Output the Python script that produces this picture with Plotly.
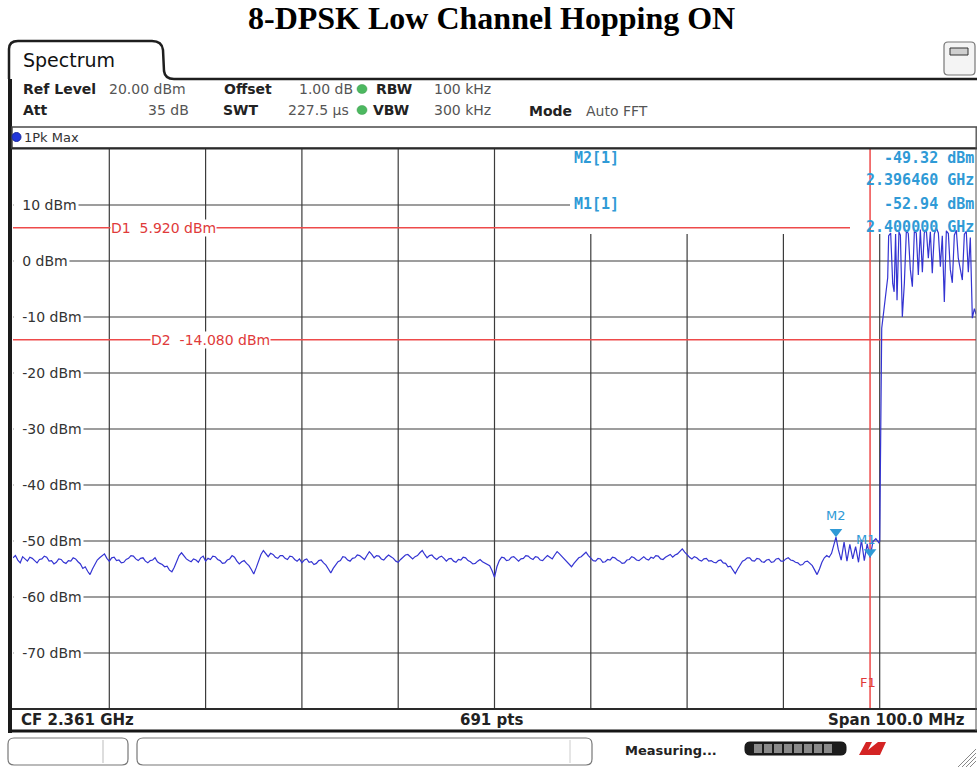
import numpy as np
import plotly.graph_objects as go

W, H = 977, 767

# ---- instrument settings ----
center_ghz = 2.361
span_mhz = 100.0
ref_level = 20.0
n_points = 691
level_ticks = [10, 0, -10, -20, -30, -40, -50, -60, -70]

# ---- display lines ----
d1_level = 5.920
d2_level = -14.080
f1_freq = 2.400

# ---- markers ----
m1_freq, m1_level = 2.400000, -52.94
m2_freq, m2_level = 2.396460, -49.32

# ---- trace 1 (1Pk Max): noise floor, 0.25 MHz steps from 2.311 GHz ----
floor_start = 2.311
floor_step = 0.00025
floor_level = [
    -53.0, -52.6, -53.4, -53.9, -52.8, -53.2, -53.6, -52.9, -53.1, -53.5,
    -53.9, -53.3, -53.2, -52.7, -52.9, -53.6, -53.5, -54.1, -53.8, -53.2,
    -53.3, -53.8, -54.0, -53.5, -53.6, -53.0, -53.2, -53.7, -54.1, -54.9,
    -54.6, -55.4, -56.0, -55.0, -54.2, -53.4, -53.0, -52.6, -52.3, -53.1,
    -53.6, -53.0, -52.9, -53.5, -53.4, -53.9, -53.8, -53.3, -53.1, -52.6,
    -52.7, -53.2, -53.5, -53.1, -53.0, -53.6, -53.9, -53.5, -53.4, -53.0,
    -53.7, -54.0, -54.2, -54.6, -54.5, -55.2, -55.5, -54.7, -53.8, -52.6,
    -52.1, -52.7, -53.2, -53.5, -53.7, -53.2, -53.4, -53.8, -53.0, -52.7,
    -53.6, -53.1, -53.3, -52.7, -52.8, -53.3, -53.5, -54.0, -53.9, -53.4,
    -53.2, -52.6, -52.9, -53.6, -54.1, -53.7, -53.5, -54.0, -54.4, -55.1,
    -55.9, -54.8, -53.6, -52.4, -51.7, -52.3, -52.8, -52.2, -52.4, -52.9,
    -53.1, -52.6, -52.6, -53.1, -53.3, -52.7, -52.8, -53.3, -53.6, -53.2,
    -53.9, -53.4, -53.2, -53.8, -53.7, -54.2, -54.0, -53.5, -53.4, -53.9,
    -54.3, -55.0, -55.7, -54.9, -54.2, -53.7, -53.5, -52.8, -52.9, -53.4,
    -53.6, -53.1, -53.0, -52.5, -52.6, -53.0, -53.3, -52.6, -51.9, -52.4,
    -53.0, -52.6, -52.7, -53.2, -53.4, -52.9, -52.5, -52.8, -53.1, -53.6,
    -53.8, -53.3, -52.9, -52.5, -52.4, -52.9, -53.2, -52.8, -52.6, -52.1,
    -51.7, -52.4, -53.0, -52.6, -52.5, -53.0, -53.3, -52.9, -52.7, -53.1,
    -53.6, -53.2, -53.1, -53.6, -53.8, -53.3, -53.4, -52.9, -53.0, -53.5,
    -53.7, -54.1, -54.0, -53.6, -53.3, -53.7, -53.9, -54.2, -54.4, -55.3,
    -56.5, -54.6, -53.5, -52.9, -53.0, -53.5, -53.4, -52.9, -52.8, -53.2,
    -53.6, -53.2, -53.1, -52.6, -52.7, -53.1, -53.3, -52.8, -52.9, -53.4,
    -53.5, -53.0, -52.6, -52.9, -53.2, -52.5, -51.9, -52.3, -52.8, -53.2,
    -53.6, -54.1, -54.6, -54.0, -53.4, -53.0, -52.8, -52.4, -52.0, -52.6,
    -53.1, -53.5, -53.6, -53.1, -53.2, -53.8, -53.7, -53.3, -53.4, -52.9,
    -53.0, -53.4, -53.6, -54.0, -53.9, -53.4, -53.3, -52.8, -53.0, -53.4,
    -53.5, -53.1, -52.8, -53.2, -53.4, -52.9, -53.1, -52.6, -52.7, -53.2,
    -53.3, -52.9, -52.6, -52.4, -52.9, -52.5, -52.3, -51.9, -51.4, -52.0,
    -52.5, -52.9, -53.2, -52.8, -53.0, -53.4, -53.6, -53.2, -53.1, -53.6,
    -53.5, -53.8, -53.9, -53.5, -53.4, -53.9, -54.0, -54.6, -54.5, -55.2,
    -55.8, -55.0, -54.2, -53.6, -53.4, -53.0, -53.0, -53.5, -53.6, -53.1,
    -53.2, -53.7, -53.8, -53.4, -53.3, -53.8, -53.7, -53.2, -53.1, -53.6,
    -53.6, -53.2, -53.0, -53.4, -53.5, -53.8, -53.9, -54.3, -54.2, -53.7,
    -53.6, -54.0, -54.4, -55.2, -56.0, -55.0, -53.8, -53.0, -52.6, -52.9,
    -52.2,
]

# ---- trace 1: band edge and hopping channels ----
edge_freq = [
    2.39646, 2.39670, 2.39700, 2.39730, 2.39760, 2.39790, 2.39820, 2.39850,
    2.39880, 2.39910, 2.39940, 2.39970, 2.40000, 2.40030, 2.40060, 2.40090,
    2.40100, 2.40106, 2.40111, 2.40116, 2.40121, 2.40142, 2.40162, 2.40183,
    2.40193, 2.40214, 2.40235, 2.40250, 2.40265, 2.40280, 2.40300, 2.40315,
    2.40335, 2.40356, 2.40377, 2.40397, 2.40418, 2.40439, 2.40460, 2.40480,
    2.40501, 2.40522, 2.40543, 2.40563, 2.40584, 2.40605, 2.40626, 2.40646,
    2.40667, 2.40688, 2.40709, 2.40730, 2.40750, 2.40771, 2.40792, 2.40813,
    2.40833, 2.40854, 2.40875, 2.40896, 2.40916, 2.40937, 2.40958, 2.40979,
    2.40999, 2.41020, 2.41041, 2.41062, 2.41083, 2.41100,
]
edge_level = [
    -49.32, -51.5, -53.4, -50.2, -53.6, -50.6, -53.2, -51.0,
    -53.8, -49.8, -53.5, -50.5, -52.94, -50.1, -49.6, -50.3,
    -50.0, -40.0, -27.0, -26.0, -12.0, -9.0, -5.5, -3.0,
    4.5, 5.0, -4.0, -5.5, 4.8, -7.0, 5.2, 4.6,
    -10.0, -4.0, 5.5, 4.9, -1.5, -4.6, 5.3, 5.0,
    -2.5, 5.6, -2.0, 5.0, 5.6, 0.5, 5.2, -2.2,
    4.8, 5.9, 5.0, -1.0, 4.5, -7.3, 5.4, 4.9,
    -1.5, -3.9, 4.6, 5.5, 0.5, -1.8, -3.4, 4.8,
    5.3, -2.0, 4.2, -10.2, -8.5, -9.5,
]

floor_freq = list(np.round(floor_start + floor_step * np.arange(len(floor_level)), 6))
trace_freq = floor_freq + edge_freq
trace_level = floor_level + edge_level

f_lo = center_ghz - span_mhz / 2000.0
f_hi = center_ghz + span_mhz / 2000.0
l_lo = ref_level - 100.0
l_hi = ref_level

# plot area in pixels
PX0, PX1, PY0, PY1 = 13, 976, 149, 709


def px(x):
    return x / W


def py(y):
    return 1 - y / H


def fx(xpix):
    """pixel column -> frequency on the x axis"""
    return f_lo + (xpix - PX0) / (PX1 - PX0) * (f_hi - f_lo)


def ly(ypix):
    """pixel row -> level on the y axis"""
    return l_hi - (ypix - PY0) / (PY1 - PY0) * (l_hi - l_lo)


def rrect(x0, y0, x1, y1, r):
    return (f"M {px(x0 + r)},{py(y0)} L {px(x1 - r)},{py(y0)} "
            f"Q {px(x1)},{py(y0)} {px(x1)},{py(y0 + r)} L {px(x1)},{py(y1 - r)} "
            f"Q {px(x1)},{py(y1)} {px(x1 - r)},{py(y1)} L {px(x0 + r)},{py(y1)} "
            f"Q {px(x0)},{py(y1)} {px(x0)},{py(y1 - r)} L {px(x0)},{py(y0 + r)} "
            f"Q {px(x0)},{py(y0)} {px(x0 + r)},{py(y0)} Z")


GRID = "#3c3c3c"
RED = "#ee4a4a"
CYAN = "#2f9ad6"
TRACE = "#3434d2"
UI = "DejaVu Sans"
MONO = "DejaVu Sans Mono"

shapes = []
annotations = []


def pline(x0, y0, x1, y1, color, width):
    shapes.append(dict(type="line", xref="paper", yref="paper",
                       x0=px(x0), y0=py(y0), x1=px(x1), y1=py(y1),
                       line=dict(color=color, width=width), layer="above"))


def text(x, y, s, size=14, color="#222", anchor="left", bold=False,
         family=UI, bg=None, yref="paper", pad=0):
    annotations.append(dict(
        x=px(x), xref="paper",
        y=py(y) if yref == "paper" else y, yref=yref,
        text=f"<b>{s}</b>" if bold else s, showarrow=False,
        xanchor=anchor, yanchor="middle",
        font=dict(family=family, size=size, color=color),
        bgcolor=bg, borderpad=pad))


# ---- grid (drawn under the trace) ----
n_div = 10
for i in range(1, n_div):
    f = f_lo + i * (f_hi - f_lo) / n_div
    top = l_hi
    if fx(570) < f:
        top = ly(234)
    shapes.append(dict(type="line", xref="x", yref="y", x0=f, x1=f, y0=l_lo, y1=top,
                       line=dict(color=GRID, width=1.2), layer="below"))
for v in level_ticks:
    right = f_hi if v < ly(234) else fx(570)
    shapes.append(dict(type="line", xref="x", yref="y", x0=f_lo, x1=right, y0=v, y1=v,
                       line=dict(color=GRID, width=1.2), layer="below"))

# display lines and frequency line
shapes.append(dict(type="line", xref="x", yref="y", x0=f_lo, x1=fx(850), y0=d1_level,
                   y1=d1_level, line=dict(color=RED, width=1.5), layer="below"))
shapes.append(dict(type="line", xref="x", yref="y", x0=f_lo, x1=f_hi, y0=d2_level,
                   y1=d2_level, line=dict(color=RED, width=1.5), layer="below"))
shapes.append(dict(type="line", xref="x", yref="y", x0=f1_freq, x1=f1_freq, y0=l_lo,
                   y1=l_hi, line=dict(color=RED, width=1.5), layer="below"))

# ---- screen frame ----
tab = (f"M {px(9)},{py(79)} L {px(9)},{py(49)} Q {px(9)},{py(41)} {px(18)},{py(41)} "
       f"L {px(152)},{py(41)} Q {px(162)},{py(41)} {px(163)},{py(50)} "
       f"L {px(164)},{py(71)} Q {px(165)},{py(79)} {px(174)},{py(79)} L {px(977)},{py(79)}")
shapes.append(dict(type="path", xref="paper", yref="paper", path=tab,
                   line=dict(color="#1e1e1e", width=2.5), layer="above"))
pline(10, 79, 10, 733, "#1a1a1a", 4)
shapes.append(dict(type="rect", xref="paper", yref="paper", x0=px(12), x1=px(977),
                   y0=py(127), y1=py(148), line=dict(color="#4a4a4a", width=1.5),
                   fillcolor="rgba(0,0,0,0)", layer="above"))
pline(12, 148.5, 977, 148.5, "#2a2a2a", 2)
pline(12, 709, 977, 709, "#2a2a2a", 2)
pline(10, 731, 977, 731, "#151515", 3)
pline(976, 127, 976, 731, "#555", 1)
shapes.append(dict(type="circle", xref="paper", yref="paper", x0=px(12), x1=px(21),
                   y0=py(132.5), y1=py(141.5), fillcolor="#2236d8",
                   line=dict(color="#1a2aa0", width=1), layer="above"))
for gy in (89, 110):
    shapes.append(dict(type="circle", xref="paper", yref="paper", x0=px(357), x1=px(367),
                       y0=py(gy - 4.5), y1=py(gy + 4.5), fillcolor="#4cb860",
                       line=dict(color="#3a9a4a", width=0.5), layer="above"))

# top-right icon
shapes.append(dict(type="path", xref="paper", yref="paper", path=rrect(944, 42, 975, 75, 4),
                   line=dict(color="#777", width=1.2), fillcolor="#f4f4f4", layer="above"))
shapes.append(dict(type="rect", xref="paper", yref="paper", x0=px(950), x1=px(968),
                   y0=py(48), y1=py(55), line=dict(color="#333", width=1),
                   fillcolor="#cfcfcf", layer="above"))

# status bar
shapes.append(dict(type="path", xref="paper", yref="paper", path=rrect(8, 738, 128, 765, 6),
                   line=dict(color="#777", width=1.2), fillcolor="white", layer="above"))
pline(103, 740, 103, 763, "#bbb", 1)
shapes.append(dict(type="path", xref="paper", yref="paper", path=rrect(137, 738, 592, 765, 6),
                   line=dict(color="#777", width=1.2), fillcolor="white", layer="above"))
pline(570, 740, 570, 763, "#ccc", 1)
shapes.append(dict(type="path", xref="paper", yref="paper", path=rrect(745, 742, 846, 755, 5),
                   line=dict(color="#111", width=1), fillcolor="#1c1c1c", layer="above"))
for k in range(8):
    x0 = 754 + k * 10
    shapes.append(dict(type="rect", xref="paper", yref="paper", x0=px(x0), x1=px(x0 + 8),
                       y0=py(744), y1=py(753), line=dict(width=0), fillcolor="#8a8a8a",
                       layer="above"))
shapes.append(dict(type="path", xref="paper", yref="paper",
                   path=(f"M {px(859)},{py(755)} L {px(866)},{py(742)} L {px(872)},{py(742)} "
                         f"L {px(868)},{py(750)} L {px(878)},{py(742)} L {px(886)},{py(742)} "
                         f"L {px(880)},{py(755)} Z"),
                   line=dict(width=0), fillcolor="#d42424", layer="above"))
for k in range(4):
    pline(958 + k * 4, 767, 976, 749 + k * 4, "#888", 1)

# ---- text ----
annotations.append(dict(x=px(492), y=py(18), xref="paper", yref="paper",
                        text="<b>8-DPSK Low Channel Hopping ON</b>", showarrow=False,
                        xanchor="center", yanchor="middle",
                        font=dict(family="Liberation Serif", size=32, color="#000")))
text(22, 60, "Spectrum", size=19, color="#111")

text(22, 89, "Ref Level", 14, "#222", bold=True)
text(108, 89, f"{ref_level:.2f} dBm", 14, "#555")
text(223, 89, "Offset", 14, "#222", bold=True)
text(298, 89, "1.00 dB", 14, "#555")
text(375, 89, "RBW", 14, "#222", bold=True)
text(433, 89, "100 kHz", 14, "#555")
text(22, 110, "Att", 14, "#222", bold=True)
text(190, 110, "35 dB", 14, "#555", anchor="right")
text(222, 110, "SWT", 14, "#222", bold=True)
text(287, 110, "227.5 µs", 14, "#555")
text(372, 110, "VBW", 14, "#222", bold=True)
text(433, 110, "300 kHz", 14, "#555")
text(528, 111, "Mode", 14, "#222", bold=True)
text(585, 111, "Auto FFT", 14, "#555")
text(23, 137, "1Pk Max", 13, "#333")

# level labels sit on their grid lines, masking the line under the text
for v in level_ticks:
    text(13, v, f"\u00a0\u2009{v} dBm", 14, "#333", bg="white", yref="y", pad=1)

text(110, d1_level, f"D1  {d1_level:.3f} dBm", 14, "#e03a3a", bg="white", yref="y")
text(150, d2_level, f"D2  {d2_level:.3f} dBm", 14, "#e03a3a", bg="white", yref="y")

text(573, 158, "M2[1]", 15, CYAN, bold=True, family=MONO)
text(573, 204, "M1[1]", 15, CYAN, bold=True, family=MONO)
text(975, 158, f"{m2_level:.2f} dBm", 15, CYAN, anchor="right", bold=True, family=MONO)
text(975, 180, f"{m2_freq:.6f} GHz", 15, CYAN, anchor="right", bold=True, family=MONO)
text(975, 204, f"{m1_level:.2f} dBm", 15, CYAN, anchor="right", bold=True, family=MONO)
text(975, 227, f"{m1_freq:.6f} GHz", 15, CYAN, anchor="right", bold=True, family=MONO)

annotations.append(dict(x=m2_freq, y=m2_level, xref="x", yref="y", text="M2",
                        showarrow=False, yshift=22, font=dict(family=UI, size=13, color=CYAN)))
annotations.append(dict(x=m1_freq, y=m1_level, xref="x", yref="y", text="M1",
                        showarrow=False, yshift=18, xshift=-4,
                        font=dict(family=UI, size=13, color=CYAN)))
annotations.append(dict(x=f1_freq, y=l_lo, xref="x", yref="y", text="F1",
                        showarrow=False, yshift=27, xshift=-2,
                        font=dict(family=UI, size=13, color="#e03a3a")))

text(20, 720, f"CF {center_ghz:.3f} GHz", 15, "#222", bold=True)
text(492, 720, f"{n_points} pts", 15, "#222", anchor="center", bold=True)
text(966, 720, f"Span {span_mhz:.1f} MHz", 15, "#222", anchor="right", bold=True)
text(624, 750, "Measuring...", 13, "#222", bold=True)

fig = go.Figure()
fig.add_trace(go.Scatter(x=trace_freq, y=trace_level, mode="lines",
                         line=dict(color=TRACE, width=1.2), hoverinfo="skip",
                         showlegend=False))
# marker symbols: downward triangles whose tips sit on the marker positions
tip_offset_db = 5.5 * (l_hi - l_lo) / (PY1 - PY0)
fig.add_trace(go.Scatter(x=[m2_freq, m1_freq],
                         y=[m2_level + tip_offset_db, m1_level + tip_offset_db],
                         mode="markers", showlegend=False, hoverinfo="skip",
                         marker=dict(symbol="triangle-down", size=11, color=CYAN,
                                     line=dict(width=0))))

fig.update_layout(
    width=W, height=H, margin=dict(l=0, r=0, t=0, b=0),
    paper_bgcolor="white", plot_bgcolor="white",
    xaxis=dict(range=[f_lo, f_hi], domain=[px(PX0), px(PX1)], visible=False,
               showgrid=False, zeroline=False, fixedrange=True),
    yaxis=dict(range=[l_lo, l_hi], domain=[py(PY1), py(PY0)], visible=False,
               showgrid=False, zeroline=False, fixedrange=True),
    shapes=shapes, annotations=annotations, showlegend=False,
)

fig.write_html("out.html")
